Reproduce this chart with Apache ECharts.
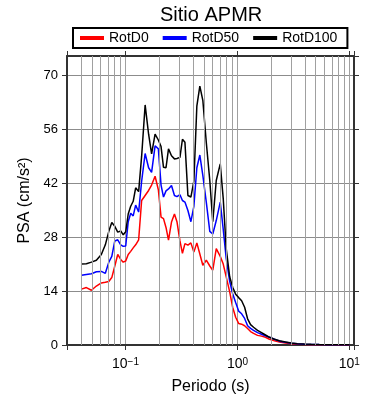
<!DOCTYPE html>
<html><head><meta charset="utf-8">
<script src="https://cdn.jsdelivr.net/npm/echarts@6/dist/echarts.min.js"></script>
<style>html,body{margin:0;padding:0;background:#fff}#c{width:390px;height:400px}</style>
</head><body><div id="c"></div>
<script>
const periods = [0.0404,0.0447,0.0496,0.0549,0.0608,0.066,0.0709,0.0754,0.0802,0.0852,0.0906,0.0954,0.1004,0.1057,0.1112,0.1171,0.1232,0.131,0.1393,0.1497,0.1608,0.171,0.1837,0.1965,0.2077,0.2185,0.23,0.2421,0.2575,0.2737,0.2881,0.3064,0.3225,0.3395,0.3609,0.3837,0.408,0.4338,0.4613,0.4906,0.5271,0.5662,0.602,0.6467,0.702,0.7465,0.7937,0.8526,0.9065,0.9638,1.025,1.09,1.159,1.232,1.31,1.393,1.512,1.641,1.781,1.933,2.142,2.372,2.682,3.033,3.429,3.957,4.567,5.379,6.601,8.098,10];
const rotD0 = [14.5,14.9,14.2,15.3,16.1,16.3,16.5,17.5,20.5,23.5,22.2,21.5,21.8,23.5,24.3,25.2,26.0,27.3,37.5,38.8,40.1,41.5,43.8,40.3,33.2,32.8,30.5,27.2,31.9,34.0,32.0,27.0,23.8,26.3,25.9,26.5,24.1,26.5,23.6,20.7,22.0,20.5,19.4,25.0,23.0,21.0,17.7,13.8,9.8,7.2,5.6,5.4,5.0,4.3,3.5,3.0,2.5,2.3,2.0,1.5,1.1,0.8,0.5,0.3,0.2,0.1,0.08,0.06,0.04,0.03,0.02];
const rotD50 = [18.1,18.3,18.5,19.0,19.1,18.6,21.5,23.0,27.0,27.3,26.0,25.6,25.7,32.0,34.2,33.5,36.3,34.5,42.5,49.7,46.0,44.8,51.7,50.9,41.5,38.4,40.0,40.5,41.4,38.8,38.5,39.0,37.5,37.1,34.9,32.0,36.0,46.0,49.3,44.0,37.0,29.5,28.8,32.3,37.1,30.0,22.5,16.5,13.3,11.0,8.8,8.1,6.9,5.0,4.3,3.8,3.2,2.8,2.4,2.0,1.5,1.0,0.7,0.45,0.3,0.2,0.15,0.1,0.07,0.05,0.04];
const rotD100 = [21.0,21.1,21.5,22.0,23.5,26.0,29.5,31.8,30.8,29.3,29.6,28.6,29.4,34.0,36.0,37.3,40.8,39.8,49.0,62.3,54.7,49.6,54.7,53.2,51.5,46.1,46.0,50.9,49.1,48.3,48.4,48.7,53.4,52.6,38.8,38.4,42.5,62.0,67.2,63.5,52.5,42.7,32.0,42.7,47.0,38.0,25.0,17.7,15.0,13.2,12.3,11.5,9.8,6.8,5.3,4.6,3.8,3.2,2.6,2.0,1.5,1.1,0.8,0.5,0.35,0.25,0.18,0.12,0.08,0.06,0.05];
const seriesNames = ['RotD0','RotD50','RotD100'];
const seriesColors = ['#ff0000','#0000ff','#000000'];
const yTickStep = 14;
const minorGrid = [0.04,0.05,0.06,0.07,0.08,0.09,0.2,0.3,0.4,0.5,0.6,0.7,0.8,0.9,2,3,4,5,6,7,8,9];

const FONT = 'Liberation Sans, Arial, Helvetica, sans-serif';
const chart = echarts.init(document.getElementById('c'), null, {renderer:'canvas'});

function pow10Label(v){
  const e = Math.log10(v);
  const r = Math.round(e);
  if (Math.abs(e - r) > 1e-6) return '';
  const s = r < 0 ? '\u2212' + (-r) : String(r);
  return '{b|10}{s|' + s + '}';
}
const valuesBySeries = [rotD0, rotD50, rotD100];
const dataSeries = seriesNames.map((n,i)=>({
  name:n, type:'line', xAxisIndex:0, yAxisIndex:0,
  data: periods.map((p,k)=>[p, valuesBySeries[i][k]]),
  showSymbol:false, symbol:'none',
  lineStyle:{color:seriesColors[i], width:1.5},
  itemStyle:{color:seriesColors[i]},
  z:3, animation:false
}));
const gridSeries = {
  name:'grid', type:'line', data:[], xAxisIndex:0, yAxisIndex:0, z:1, silent:true, animation:false,
  markLine:{silent:true, symbol:['none','none'], label:{show:false}, animation:false,
    lineStyle:{color:'#a0a0a0', width:1, type:'solid'},
    data: minorGrid.map(v=>({xAxis:v}))}
};
const axisLineStyle = {color:'#333', width:2};
chart.setOption({
  animation:false,
  backgroundColor:'#fff',
  textStyle:{fontFamily:FONT},
  title:{text:'Sitio APMR', left:160, top:5, padding:0,
    textStyle:{fontSize:20, fontWeight:'normal', color:'#000', fontFamily:FONT}},
  legend:{data:seriesNames, left:73, top:28, padding:[3,10,3,7], itemGap:14,
    itemWidth:24, itemHeight:4, icon:'rect', borderColor:'#000', borderWidth:2,
    textStyle:{fontSize:14, color:'#000', fontFamily:FONT}},
  grid:{left:67, right:36, top:56, bottom:55, containLabel:false},
  xAxis:[
    {type:'log', logBase:10, min:0.03, max:11, position:'bottom',
     axisLine:{show:true, onZero:false, lineStyle:axisLineStyle},
     axisTick:{show:true, inside:false, length:5, lineStyle:{color:'#333'}},
     axisLabel:{formatter:pow10Label, margin:12, color:'#000',
       rich:{b:{fontSize:14, fontFamily:FONT, color:'#000'}, s:{fontSize:10, fontFamily:FONT, color:'#000', verticalAlign:'top'}}},
     splitLine:{show:true, showMinLine:false, showMaxLine:false, lineStyle:{color:'#a0a0a0', width:1}},
     name:'Periodo (s)', nameLocation:'middle', nameGap:34,
     nameTextStyle:{fontSize:16, color:'#000', fontFamily:FONT}},
    {type:'log', logBase:10, min:0.03, max:11, position:'top',
     axisLine:{show:true, onZero:false, lineStyle:axisLineStyle},
     axisTick:{show:true, inside:false, length:5, lineStyle:{color:'#333'}},
     axisLabel:{show:false}, splitLine:{show:false}}
  ],
  yAxis:[
    {type:'value', min:0, max:75, interval:yTickStep, position:'left',
     axisLine:{show:true, onZero:false, lineStyle:axisLineStyle},
     axisTick:{show:true, inside:false, length:5, lineStyle:{color:'#333'}},
     axisLabel:{fontSize:13, color:'#000', margin:9, showMaxLabel:false, fontFamily:FONT},
     splitLine:{show:true, showMinLine:false, showMaxLine:false, lineStyle:{color:'#8c8c8c', width:1}},
     name:'PSA (cm/s\u00b2)', nameLocation:'middle', nameGap:29, nameRotate:90,
     nameTextStyle:{fontSize:16, color:'#000', fontFamily:FONT}},
    {type:'value', min:0, max:75, interval:yTickStep, position:'right',
     axisLine:{show:true, onZero:false, lineStyle:axisLineStyle},
     axisTick:{show:true, inside:false, length:5, lineStyle:{color:'#333'}},
     axisLabel:{show:false}, splitLine:{show:false}}
  ],
  series:[gridSeries].concat(dataSeries)
});
</script></body></html>
